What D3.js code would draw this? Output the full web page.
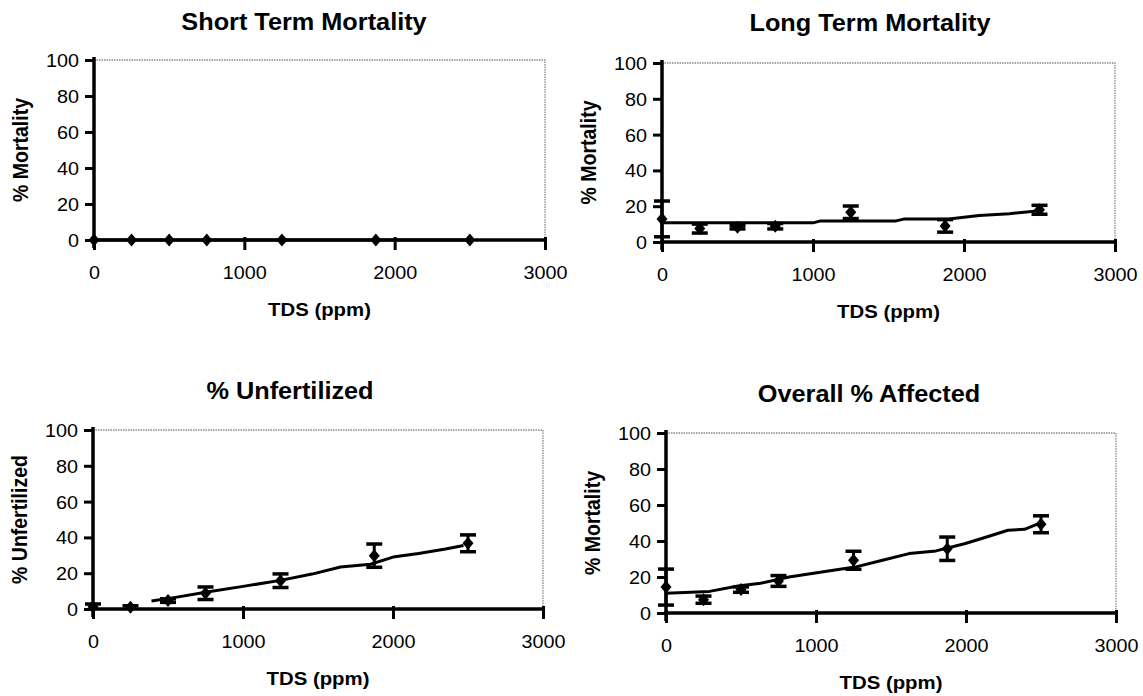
<!DOCTYPE html>
<html>
<head>
<meta charset="utf-8">
<script src="https://cdn.jsdelivr.net/npm/d3@7"></script>
<style>
  html, body { margin: 0; padding: 0; background: #fff; }
  svg { display: block; }
  text { font-family: "Liberation Sans", Arial, sans-serif; fill: #000; }
</style>
</head>
<body>
<svg id="chart" width="1143" height="696"></svg>
<script>
// ---------- DATA ----------
const tds = [0, 250, 500, 750, 1250, 1875, 2500];
const xTicks = [0, 1000, 2000, 3000];
const yTicks = [0, 20, 40, 60, 80, 100];
const xTitle = "TDS (ppm)";

const shortTitle = "Short Term Mortality";
const shortYTitle = "% Mortality";
const shortMean = [0, 0, 0, 0, 0, 0, 0];
const shortErr  = [0, 0, 0, 0, 0, 0, 0];
const shortTrendX = [0, 2500];
const shortTrendY = [0, 0];

const longTitle = "Long Term Mortality";
const longYTitle = "% Mortality";
const longMean = [12.9, 7.5, 8.3, 8.8, 16.6, 9, 18];
const longErr  = [10, 2.5, 1, 1.5, 3.5, 3.5, 2.5];
const longTrendX = [0, 1000, 1050, 1550, 1600, 1900, 2100, 2300, 2500];
const longTrendY = [10.7, 10.7, 11.8, 11.8, 12.8, 12.8, 14.8, 15.8, 17.5];

const unfTitle = "% Unfertilized";
const unfYTitle = "% Unfertilized";
const unfMean = [1.3, 1, 4.7, 8.8, 15.8, 29.8, 36.7];
const unfErr  = [1.5, 0.8, 1, 3.5, 3.8, 6.5, 4.7];
const unfTrendX = [390, 550, 760, 990, 1250, 1460, 1650, 1850, 2000, 2170, 2350, 2470];
const unfTrendY = [4.5, 6.5, 9.5, 12.5, 16, 19.5, 23.5, 25, 29, 31, 33.5, 35.5];

const allTitle = "Overall % Affected";
const allYTitle = "% Mortality";
const allMean = [14.4, 7.4, 13, 17.8, 29.3, 35.7, 49.3];
const allErr  = [10, 2, 1.5, 3, 5, 6.5, 4.7];
const allTrendX = [0, 290, 480, 630, 820, 1060, 1260, 1430, 1620, 1800, 1990, 2110, 2280, 2390, 2480];
const allTrendY = [11, 12, 15, 16.5, 20, 23, 25.5, 29, 33, 34.5, 38.5, 41.5, 46, 46.5, 49.5];

// ---------- LAYOUT ----------
const panels = [
  { title: shortTitle, yTitle: shortYTitle, mean: shortMean, err: shortErr, tx: shortTrendX, ty: shortTrendY,
    box: { l: 94, r: 545, t: 60, b: 240 }, titleX: 304, titleY: 30 },
  { title: longTitle, yTitle: longYTitle, mean: longMean, err: longErr, tx: longTrendX, ty: longTrendY,
    box: { l: 662, r: 1115, t: 63, b: 242 }, titleX: 870, titleY: 31 },
  { title: unfTitle, yTitle: unfYTitle, mean: unfMean, err: unfErr, tx: unfTrendX, ty: unfTrendY,
    box: { l: 93, r: 543, t: 430, b: 609 }, titleX: 290, titleY: 399 },
  { title: allTitle, yTitle: allYTitle, mean: allMean, err: allErr, tx: allTrendX, ty: allTrendY,
    box: { l: 666, r: 1116, t: 433, b: 613 }, titleX: 869, titleY: 402 }
];

const SX = 1.1; // horizontal stretch of the scanned text
const svg = d3.select("#chart");

panels.forEach(p => {
  const { l, r, t, b } = p.box;
  const x = d3.scaleLinear().domain([0, 3000]).range([l, r]);
  const y = d3.scaleLinear().domain([0, 100]).range([b, t]);
  const g = svg.append("g");

  // plot border (top and right, dotted gray)
  g.append("path")
    .attr("d", `M${x(0)},${y(100)}H${x(3000)}V${y(0)}`)
    .attr("fill", "none").attr("stroke", "#8a8a8a")
    .attr("stroke-width", 1.3).attr("stroke-dasharray", "1.5,1");

  // y axis
  const yAxis = d3.axisLeft(y).tickValues(yTicks).tickSize(9).tickPadding(5);
  const ya = g.append("g").attr("transform", `translate(${x(0)},0)`).call(yAxis);
  ya.select(".domain").remove();
  ya.selectAll(".tick line").attr("stroke", "#000").attr("stroke-width", 3);
  ya.selectAll(".tick text")
    .attr("x", -15 / SX).attr("dy", "0.36em")
    .attr("transform", `scale(${SX},1)`)
    .style("font-size", "18px").style("font-family", "'Liberation Sans', Arial, sans-serif");

  // x axis
  const xAxis = d3.axisBottom(x).tickValues(xTicks).tickSize(10).tickFormat(d3.format("d"));
  const xa = g.append("g").attr("transform", `translate(0,${y(0)})`).call(xAxis);
  xa.select(".domain").remove();
  xa.selectAll(".tick line").attr("y1", -3).attr("stroke", "#000").attr("stroke-width", 3);
  xa.selectAll(".tick text")
    .attr("y", 39).attr("dy", null)
    .attr("transform", `scale(${SX},1)`)
    .style("font-size", "18px").style("font-family", "'Liberation Sans', Arial, sans-serif");

  // axis lines (thick)
  g.append("line").attr("x1", x(0)).attr("x2", x(0)).attr("y1", y(100) - 3).attr("y2", y(0) + 8)
    .attr("stroke", "#000").attr("stroke-width", 3.5);
  g.append("line").attr("x1", x(0) - 2).attr("x2", x(3000) + 1).attr("y1", y(0)).attr("y2", y(0))
    .attr("stroke", "#000").attr("stroke-width", 3.5);

  // trend line
  const trend = p.tx.map((v, i) => [v, p.ty[i]]);
  g.append("path")
    .datum(trend)
    .attr("d", d3.line().x(d => x(d[0])).y(d => y(d[1])))
    .attr("fill", "none").attr("stroke", "#000").attr("stroke-width", 3)
    .attr("stroke-linejoin", "round");

  // error bars
  const pts = tds.map((v, i) => ({ x: v, m: p.mean[i], e: p.err[i] }));
  const eb = g.append("g").selectAll("g").data(pts.filter(d => d.e > 0)).join("g");
  eb.append("line")
    .attr("x1", d => x(d.x)).attr("x2", d => x(d.x))
    .attr("y1", d => y(Math.max(0, d.m - d.e))).attr("y2", d => y(d.m + d.e))
    .attr("stroke", "#000").attr("stroke-width", 3);
  eb.append("line")
    .attr("x1", d => x(d.x) - 8).attr("x2", d => x(d.x) + 8)
    .attr("y1", d => y(d.m + d.e)).attr("y2", d => y(d.m + d.e))
    .attr("stroke", "#000").attr("stroke-width", 3.5);
  eb.filter(d => d.m - d.e > 1.5).append("line")
    .attr("x1", d => x(d.x) - 8).attr("x2", d => x(d.x) + 8)
    .attr("y1", d => y(d.m - d.e)).attr("y2", d => y(d.m - d.e))
    .attr("stroke", "#000").attr("stroke-width", 3.5);

  // diamond markers
  g.append("g").selectAll("path").data(pts).join("path")
    .attr("transform", d => `translate(${x(d.x)},${y(d.m)})`)
    .attr("d", "M0,-6.5L5.5,0L0,6.5L-5.5,0Z")
    .attr("fill", "#000");

  // titles
  g.append("text")
    .attr("transform", `translate(${p.titleX},${p.titleY}) scale(${SX},1)`)
    .attr("text-anchor", "middle")
    .style("font-size", "23px").style("font-weight", "bold")
    .text(p.title);

  g.append("text")
    .attr("transform", `translate(${(x(0) + x(3000)) / 2},${y(0) + 76}) scale(${SX},1)`)
    .attr("text-anchor", "middle")
    .style("font-size", "18.5px").style("font-weight", "bold")
    .text(xTitle);

  g.append("text")
    .attr("transform", `translate(${x(0) - 66},${(y(0) + y(100)) / 2}) rotate(-90) scale(1,${SX})`)
    .attr("text-anchor", "middle")
    .style("font-size", "19.5px").style("font-weight", "bold")
    .text(p.yTitle);
});
</script>
</body>
</html>
